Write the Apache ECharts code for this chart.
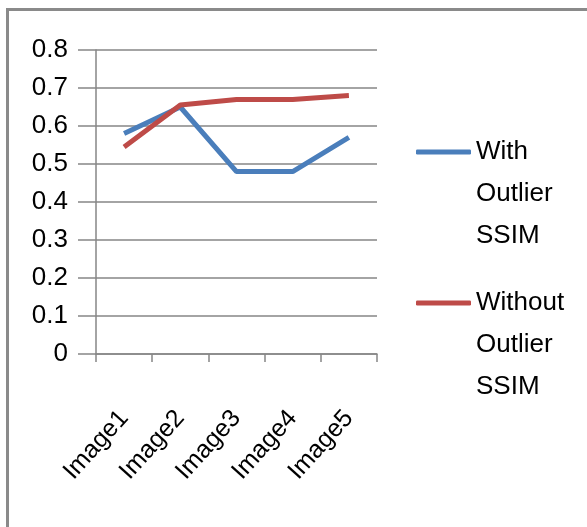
<!DOCTYPE html>
<html>
<head>
<meta charset="utf-8">
<script src="https://cdn.jsdelivr.net/npm/echarts@6/dist/echarts.min.js"></script>
<style>html,body{margin:0;padding:0;background:#fff;}#c{width:587px;height:527px;}</style>
</head>
<body>
<div id="c"></div>
<script>
const categories = ['Image1', 'Image2', 'Image3', 'Image4', 'Image5'];
const withOutlier = [0.58, 0.65, 0.48, 0.48, 0.57];
const withoutOutlier = [0.545, 0.655, 0.67, 0.67, 0.68];
const seriesNames = ['With\nOutlier\nSSIM', 'Without\nOutlier\nSSIM'];
const yTicks = [0, 0.1, 0.2, 0.3, 0.4, 0.5, 0.6, 0.7, 0.8];

const FONT = "'Liberation Sans', Arial, sans-serif";
const chart = echarts.init(document.getElementById('c'), null, {renderer: 'canvas'});
const legendBase = {
  orient: 'vertical', left: 416, padding: 0, icon: 'roundRect',
  itemWidth: 55, itemHeight: 5, selectedMode: false,
  formatter: name => '\n\n' + name,
  textStyle: {fontFamily: FONT, fontSize: 26, color: '#000', lineHeight: 42}
};
chart.setOption({
  animation: false,
  backgroundColor: '#fff',
  graphic: [{
    type: 'rect', shape: {x: 7.5, y: 9.5, width: 700, height: 700},
    style: {fill: 'none', stroke: '#8a8a8a', lineWidth: 3}, silent: true, z: 100
  }],
  legend: [
    Object.assign({}, legendBase, {top: 152 - 105, data: [seriesNames[0]]}),
    Object.assign({}, legendBase, {top: 303 - 105, data: [seriesNames[1]]})
  ],
  grid: {left: 96, right: 210, top: 50, bottom: 173, containLabel: false},
  xAxis: {
    type: 'category', data: categories, boundaryGap: true,
    axisLine: {lineStyle: {color: '#868686', width: 1.5}},
    axisTick: {show: true, length: 8, lineStyle: {color: '#868686', width: 1.5}},
    axisLabel: {rotate: 48, margin: 60, fontFamily: FONT, fontSize: 25, color: '#000', interval: 0}
  },
  yAxis: {
    type: 'value', min: 0, max: 0.8, interval: 0.1,
    axisLine: {show: true, lineStyle: {color: '#868686', width: 1.5}},
    axisTick: {show: true, length: 18, lineStyle: {color: '#868686', width: 1.5}},
    splitLine: {lineStyle: {color: '#868686', width: 1.5}},
    axisLabel: {margin: 28, fontFamily: FONT, fontSize: 26, color: '#000',
      formatter: v => { const t = yTicks.find(x => Math.abs(x - v) < 1e-9); return t === 0 ? '0' : String(t); }}
  },
  series: [
    {name: seriesNames[0], type: 'line', data: withOutlier, symbol: 'none',
     lineStyle: {color: '#4a7ebb', width: 5}, itemStyle: {color: '#4a7ebb'}},
    {name: seriesNames[1], type: 'line', data: withoutOutlier, symbol: 'none',
     lineStyle: {color: '#be4b48', width: 5}, itemStyle: {color: '#be4b48'}}
  ]
});
</script>
</body>
</html>
